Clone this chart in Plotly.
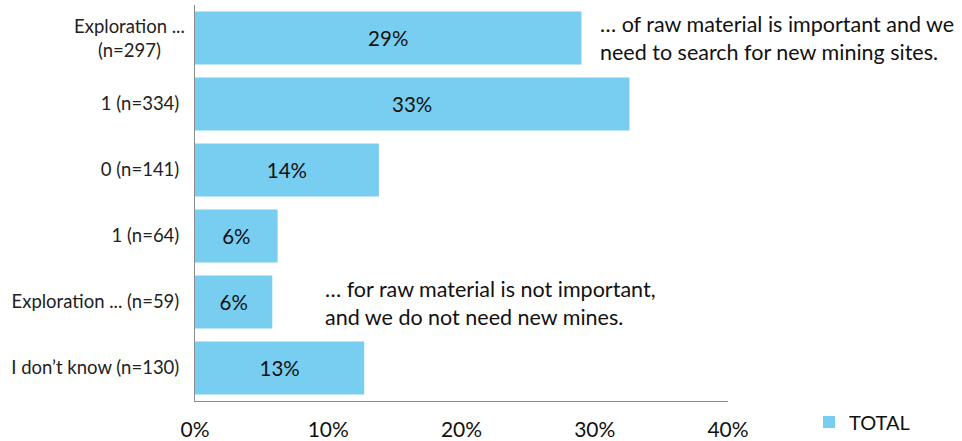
import plotly.graph_objects as go

# Survey shares per answer group (percent of respondents)
categories = ["Exploration ...", "1 (n=334)", "0 (n=141)", "1 (n=64)",
              "Exploration ... (n=59)", "I don’t know (n=130)"]
first_label = "Exploration ...<br>(n=297)"
shares = [29.0, 32.6, 13.8, 6.2, 5.8, 12.7]
x_ticks = [0, 10, 20, 30, 40]
x_tick_text = ["0%", "10%", "20%", "30%", "40%"]

FONT = "Lato, 'Open Sans', sans-serif"
BAR_COLOR = "#78CEF0"
AXIS_COLOR = "#8C8C8C"

# plot area in pixels (used to place notes in paper coordinates)
L, R, T, B = 195, 234, 5, 40
W, H = 962, 441
PW, PH = W - L - R, H - T - B


def px_x(x):
    return (x - L) / PW


def px_y(y):
    return 1 - (y - T) / PH


fig = go.Figure()
fig.add_trace(go.Bar(
    x=shares,
    y=categories,
    orientation="h",
    name="TOTAL",
    marker=dict(color=BAR_COLOR, line=dict(width=0)),
    width=0.8,
    texttemplate="%{x:.0f}%",
    textposition="inside",
    insidetextanchor="middle",
    textangle=0,
    textfont=dict(family=FONT, size=20.5, color="#111111"),
    cliponaxis=False,
))

# Two-line label for the top group, centred
fig.add_annotation(
    x=0, xref="paper", xshift=-8, xanchor="right",
    y=categories[0], yref="y", yanchor="middle",
    text=first_label, showarrow=False, align="center",
    font=dict(family=FONT, size=18.5, color="#222222"),
)

# Explanatory notes next to the bars
fig.add_annotation(
    x=px_x(598), xref="paper", xanchor="left",
    y=px_y(38), yref="paper", yanchor="middle",
    text="… of raw material is important and we<br>need to search for new mining sites.",
    showarrow=False, align="left",
    font=dict(family=FONT, size=21.5, color="#111111"),
)
fig.add_annotation(
    x=px_x(323), xref="paper", xanchor="left",
    y=px_y(303), yref="paper", yanchor="middle",
    text="… for raw material is not important,<br>and we do not need new mines.",
    showarrow=False, align="left",
    font=dict(family=FONT, size=21.5, color="#111111"),
)

fig.update_layout(
    width=W, height=H,
    margin=dict(l=L, r=R, t=T, b=B),
    paper_bgcolor="white", plot_bgcolor="white",
    font=dict(family=FONT, color="#222222"),
    bargap=0.2,
    showlegend=True,
    legend=dict(
        xref="container", yref="container",
        x=809 / W, xanchor="left", y=1 - 422 / H, yanchor="middle",
        font=dict(family=FONT, size=20, color="#111111"),
        bgcolor="rgba(0,0,0,0)",
    ),
    xaxis=dict(
        range=[0, 40], tickvals=x_ticks, ticktext=x_tick_text,
        tickmode="array", automargin=False,
        showgrid=False, zeroline=False,
        showline=True, linecolor=AXIS_COLOR, linewidth=1,
        ticks="", ticklabelstandoff=10,
        tickfont=dict(family=FONT, size=21, color="#111111"),
    ),
    yaxis=dict(
        autorange="reversed", automargin=False,
        tickvals=categories,
        ticktext=[""] + categories[1:],
        showgrid=False, zeroline=False,
        showline=True, linecolor=AXIS_COLOR, linewidth=1,
        ticks="", ticklabelstandoff=11,
        tickfont=dict(family=FONT, size=18.5, color="#222222"),
    ),
)

fig.write_html("out.html")
